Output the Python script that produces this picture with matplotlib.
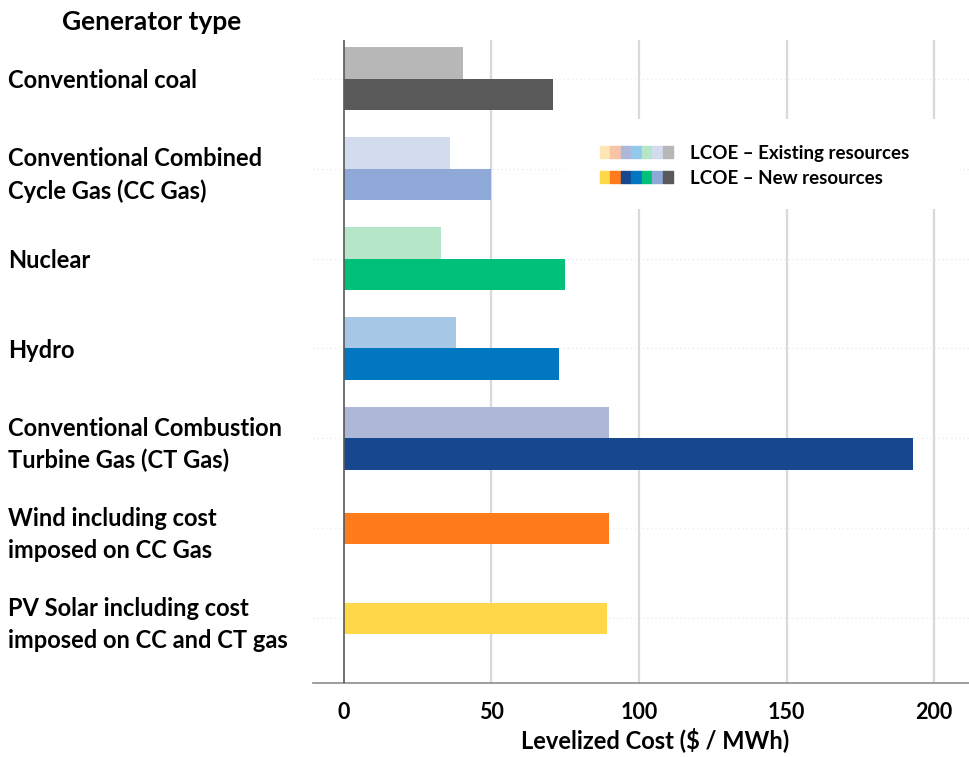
import numpy as np
import matplotlib
matplotlib.use("Agg")
import matplotlib.pyplot as plt
from matplotlib.patches import Patch, Rectangle
from matplotlib.legend_handler import HandlerTuple

plt.rcParams["font.family"] = ["Lato", "DejaVu Sans"]
plt.rcParams["font.weight"] = "bold"

categories = [
    "Conventional coal",
    "Conventional Combined\nCycle Gas (CC Gas)",
    "Nuclear",
    "Hydro",
    "Conventional Combustion\nTurbine Gas (CT Gas)",
    "Wind including cost\nimposed on CC Gas",
    "PV Solar including cost\nimposed on CC and CT gas",
]
# LCOE, $/MWh (existing resources only for the first five types)
existing = [40.5, 36, 33, 38, 90, np.nan, np.nan]
new = [71, 50, 75, 73, 193, 90, 89]

existing_colors = ["#b7b7b7", "#d3dcef", "#b5e6c9", "#a6c8e6", "#adb8d8", None, None]
new_colors = ["#595959", "#8ea8d8", "#00c07a", "#0077c0", "#17478e", "#ff7b1c", "#ffd84a"]

legend_existing = ["#fde6b3", "#f8c4a8", "#adb8d8", "#93c8ec", "#b5e6c9", "#d3dcef", "#b7b7b7"]
legend_new = ["#ffd84a", "#ff7b1c", "#17478e", "#0077c0", "#00c07a", "#8ea8d8", "#595959"]

xticks = [0, 50, 100, 150, 200]

fig = plt.figure(figsize=(9.7, 7.57), dpi=100)
ax = fig.add_axes([313 / 970, 74 / 757, 657 / 970, 643 / 757])

y = np.arange(len(categories))
ex = np.array(existing, dtype=float)
has_ex = ~np.isnan(ex)
h = 0.35

# paired bars: existing on top, new underneath; single bar when no existing value
ax.barh(y[has_ex] - h / 2, ex[has_ex], height=h,
        color=[c for c, k in zip(existing_colors, has_ex) if k], zorder=3)
new_pos = np.where(has_ex, y + h / 2, y)
ax.barh(new_pos, new, height=h, color=new_colors, zorder=3)

ax.set_xlim(-10.5, 212.2)
ax.set_ylim(6.72, -0.43)

# grid
for xv in xticks[1:]:
    ax.axvline(xv, color="#d9d9d9", lw=1.6, zorder=1)
for yv in y:
    ax.axhline(yv, color="#ececec", lw=1, ls=(0, (1, 2)), zorder=0)
ax.axvline(0, color="#595959", lw=1.2, zorder=4)

for s in ["top", "right", "left"]:
    ax.spines[s].set_visible(False)
ax.spines["bottom"].set_color("#8c8c8c")
ax.spines["bottom"].set_linewidth(1.2)

ax.set_xticks(xticks)
ax.set_xticklabels([str(v) for v in xticks], fontsize=15.5, fontweight="bold")
ax.tick_params(axis="x", length=0, pad=14)

ax.set_yticks(y)
ax.set_yticklabels(categories, fontsize=17, fontweight="bold", linespacing=1.45)
ax.tick_params(axis="y", length=0, pad=305 * 72 / 100)
for lab in ax.get_yticklabels():
    lab.set_ha("left")

ax.set_xlabel("Levelized Cost ($ / MWh)", fontsize=17, fontweight="bold")
ax.xaxis.set_label_coords((655 - 313) / 657, -0.068)

fig.text(62 / 970, 1 - 22 / 757, "Generator type", fontsize=19,
         fontweight="bold", va="center", ha="left")

# white block behind the legend hides the grid lines
fig.add_artist(Rectangle((565 / 970, 1 - 209 / 757), 395 / 970, 90 / 757,
                         transform=fig.transFigure, facecolor="white",
                         edgecolor="none", zorder=2))
ax.set_zorder(1)

handles = [tuple(Patch(color=c) for c in legend_existing),
           tuple(Patch(color=c) for c in legend_new)]
leg = fig.legend(handles, ["LCOE \u2013 Existing resources", "LCOE \u2013 New resources"],
                 handler_map={tuple: HandlerTuple(ndivide=None, pad=0)},
                 loc="upper left", bbox_to_anchor=(600 / 970, 1 - 145 / 757),
                 prop={"size": 13.5, "weight": "bold"},
                 handlelength=3.9, handleheight=0.59, handletextpad=0.9,
                 labelspacing=0.42, borderpad=0, borderaxespad=0,
                 frameon=False)
leg.set_zorder(5)

fig.savefig("out.png", dpi=100)
